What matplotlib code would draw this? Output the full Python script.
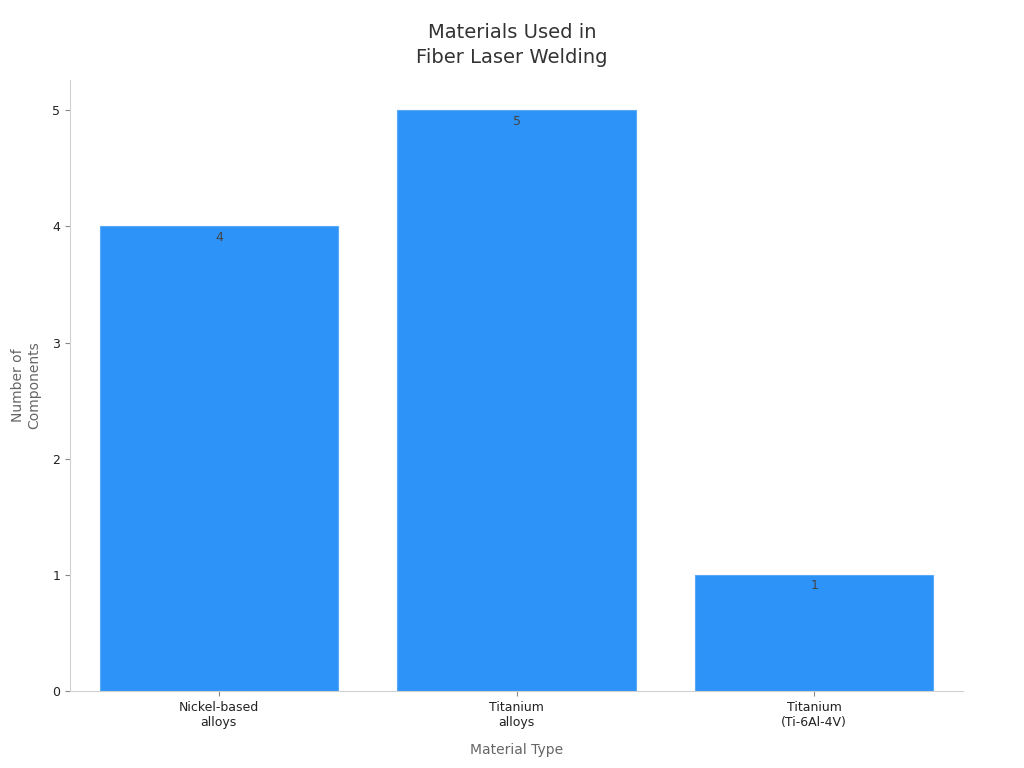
import matplotlib
matplotlib.use("Agg")
import matplotlib.pyplot as plt

categories = ["Nickel-based\nalloys", "Titanium\nalloys", "Titanium\n(Ti-6Al-4V)"]
values = [4, 5, 1]

fig = plt.figure(figsize=(10.24, 7.68), dpi=100)
ax = fig.add_axes([0.0684, 0.1003, 0.872, 0.7955])

x = range(len(categories))
bars = ax.bar(x, values, width=0.8, color="#2E93F8", edgecolor="#5aa9f5", linewidth=0.8)
for b, v in zip(bars, values):
    ax.text(b.get_x() + b.get_width() / 2, v - 0.04, str(v), ha="center", va="top",
            fontsize=9, color="#444444")

ax.set_xlim(-0.5, 2.5)
ax.set_ylim(0, 5.26)
ax.set_xticks(list(x))
ax.set_xticklabels(categories, fontsize=9, color="#222222")
ax.set_yticks(range(6))
ax.tick_params(axis="y", labelsize=9, colors="#222222")
ax.tick_params(color="#888888")
for s in ["top", "right"]:
    ax.spines[s].set_visible(False)
for s in ["left", "bottom"]:
    ax.spines[s].set_color("#d0d0d0")

ax.set_xlabel("Material Type", fontsize=10, color="#666666", labelpad=10)
ax.set_ylabel("Number of\nComponents", fontsize=10, color="#666666", labelpad=8)
fig.suptitle("Materials Used in\nFiber Laser Welding", fontsize=14, color="#333333",
             y=0.97, linespacing=1.4)

fig.savefig("out.png", dpi=100)
